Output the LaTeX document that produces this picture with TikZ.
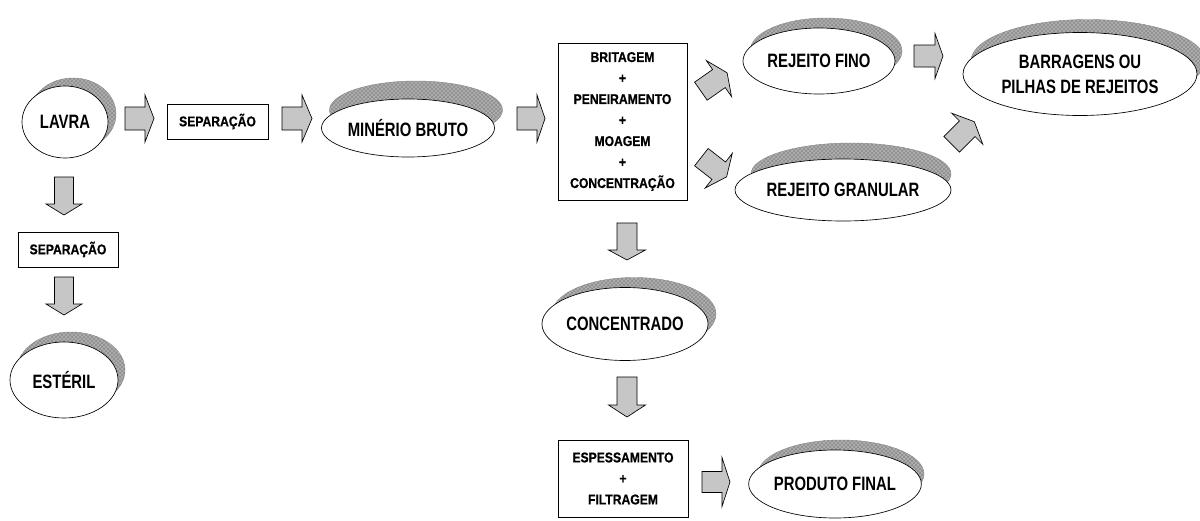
\documentclass[tikz,border=0pt]{standalone}
\usepackage{fontspec}
\setmainfont{Liberation Sans}
\newfontfamily\ellfont{Liberation Sans}[FakeStretch=0.77]
\newfontfamily\boxfont{Liberation Sans}[FakeStretch=0.86, FakeBold=0.6]
\usetikzlibrary{shapes.geometric,patterns}
\tikzset{
  shadowell/.style={ellipse, draw=gray!90, line width=0.3pt, fill=gray!62,
    postaction={pattern=crosshatch, pattern color=black!45}, inner sep=0pt},
  ellnode/.style={ellipse, draw=black, line width=0.5pt, fill=white, inner sep=0pt,
    align=center, font={\ellfont\fontsize{14.5pt}{18.75pt}\selectfont\bfseries}},
  boxnode/.style={rectangle, draw=black, line width=0.6pt, fill=white, inner sep=0pt,
    align=center, font={\boxfont\fontsize{10.6pt}{15.75pt}\selectfont\bfseries}},
  barrow/.style={draw=black, line width=0.5pt, fill=gray!45, line join=miter}
}
\newcommand\ellbox[8]{%
  \pgfmathsetmacro\ellW{#4*0.75}\pgfmathsetmacro\ellH{#5*0.75}%
  \node[shadowell, minimum width=\ellW pt, minimum height=\ellH pt] (#1s) at ({#2+#6},{#3+#7}) {};
  \node[ellnode, minimum width=\ellW pt, minimum height=\ellH pt] (#1) at (#2,#3) {#8};
}
\newcommand\rectbox[6]{%
  \pgfmathsetmacro\boxW{#4*0.75}\pgfmathsetmacro\boxH{#5*0.75}%
  \node[boxnode, minimum width=\boxW pt, minimum height=\boxH pt] (#1) at (#2,#3) {#6};
}
% x, y, angle, body length, head length, body half width, head half width
\newcommand\blockarrow[7]{%
  \pgfmathsetmacro\myTail{-(#4+#5)/2}%
  \pgfmathsetmacro\myNeck{\myTail+#4}%
  \pgfmathsetmacro\myTip{(#4+#5)/2}%
  \begin{scope}[shift={(#1,#2)}, rotate=#3]
    \draw[barrow] (\myTail,-#6) -- (\myNeck,-#6) -- (\myNeck,-#7) -- (\myTip,0)
      -- (\myNeck,#7) -- (\myNeck,#6) -- (\myTail,#6) -- cycle;
  \end{scope}
}
\begin{document}
\begin{tikzpicture}[x=0.75pt, y=-0.75pt]
\useasboundingbox (0,0) rectangle (1200,521);
\fill[white] (0,0) rectangle (1200,521);

% ellipses
\ellbox{lavra}{65}{122}{86}{72}{8}{-8}{LAVRA}
\ellbox{minerio}{408}{128}{173}{58}{8}{-18}{MINÉRIO BRUTO}
\ellbox{fino}{819}{61}{152}{66}{7}{-10}{REJEITO FINO}
\ellbox{barr}{1080}{74}{234}{83}{8}{-13}{BARRAGENS OU\\PILHAS DE REJEITOS}
\ellbox{granular}{843}{190}{200}{62}{8}{-16}{REJEITO GRANULAR}
\ellbox{conc}{625}{324}{164}{73}{9}{-10}{CONCENTRADO}
\ellbox{produto}{835}{484}{166}{68}{6}{-10}{PRODUTO FINAL}
\ellbox{esteril}{64}{380}{108}{76}{7}{-10}{ESTÉRIL}

% boxes
\rectbox{sepA}{217.5}{121.5}{101}{35}{SEPARAÇÃO}
\rectbox{brit}{622.5}{121.5}{129}{157}{BRITAGEM\\+\\PENEIRAMENTO\\+\\MOAGEM\\+\\CONCENTRAÇÃO}
\rectbox{sepB}{68}{249.5}{100}{35}{SEPARAÇÃO}
\rectbox{espes}{623}{478.5}{130}{77}{ESPESSAMENTO\\+\\FILTRAGEM}

% horizontal block arrows
\blockarrow{139.5}{118.5}{0}{20}{9}{11.5}{23.5}
\blockarrow{297}{118.5}{0}{20}{10}{11.5}{23.5}
\blockarrow{531}{118.5}{0}{20}{8}{11.5}{23.5}
\blockarrow{928.5}{56}{0}{21}{8}{11}{22.5}
\blockarrow{716}{482}{0}{20}{8}{10.5}{24.5}

% vertical block arrows
\blockarrow{64}{196}{-90}{27}{11}{9.5}{18}
\blockarrow{64}{296}{-90}{27}{11}{9.5}{18}
\blockarrow{627}{241.5}{-90}{27}{10}{10}{18.5}
\blockarrow{627}{397}{-90}{28}{12}{10}{18.5}

% diagonal block arrows
\blockarrow{714}{82}{35}{22}{10}{11}{22}
\blockarrow{714}{167}{-38}{22}{10}{11}{22}
\blockarrow{963}{133}{45}{22}{10}{11}{22}
\end{tikzpicture}
\end{document}
